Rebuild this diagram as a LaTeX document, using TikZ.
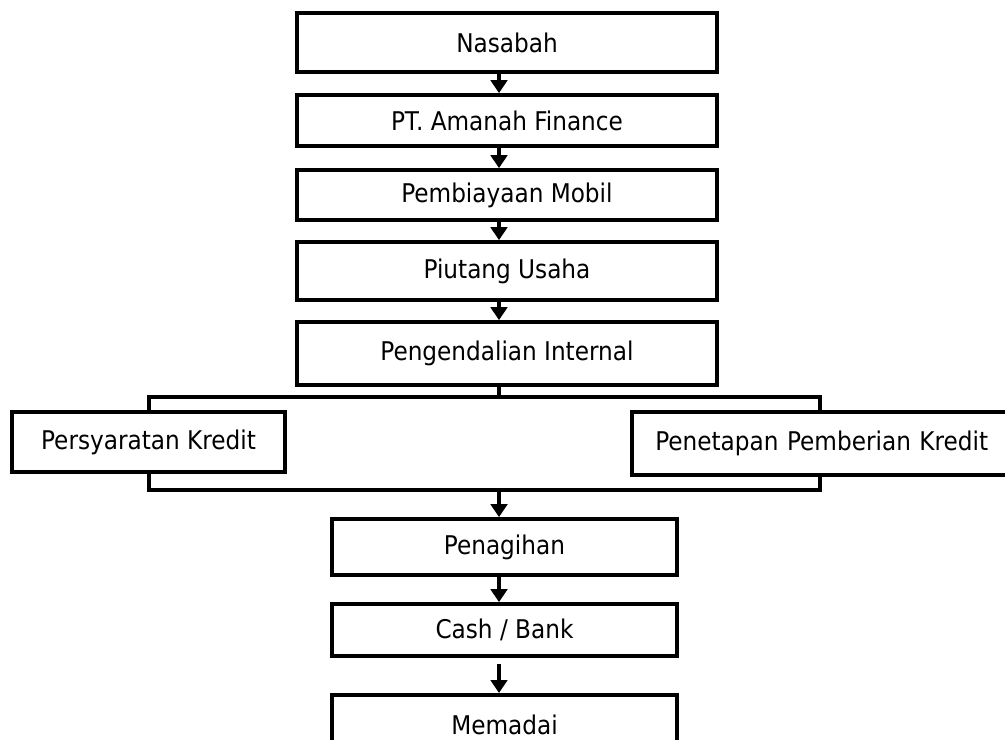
\documentclass[tikz,border=0pt]{standalone}
\usepackage{fontspec}
\setmainfont{DejaVu Sans Condensed}
\usetikzlibrary{arrows.meta}
\tikzset{
	kotak/.style={draw, fill=white, line width=3.2pt, inner sep=0pt, minimum width=12.6cm},
	panah/.style={line width=3.2pt, -{Triangle[width=14pt,length=11pt]}}
}
\begin{document}
\begin{tikzpicture}[x=.03cm, y=-.03cm, font=\fontsize{22}{26}\selectfont, line join=miter]
		\useasboundingbox (0,0) rectangle (1005,740);
		\coordinate (ax) at (499,0);
		\coordinate (kiri) at (149,397);
		\coordinate (kanan) at (820,490);
		\draw[line width=3.2pt] (kiri) rectangle (kanan);
		\node[kotak, minimum height=1.77cm] (nasabah) at (507,42.5) {Nasabah};
		\node[kotak, minimum height=1.53cm] (pt) at (507,120.5) {PT. Amanah Finance};
		\node[kotak, minimum height=1.5cm] (mobil) at (507,195) {\raisebox{-3pt}{Pembiayaan Mobil}};
		\node[kotak, minimum height=1.74cm] (piutang) at (507,271) {Piutang Usaha};
		\node[kotak, minimum height=1.89cm] (internal) at (507,353.5) {Pengendalian Internal};
		\node[kotak, minimum width=8.19cm, minimum height=1.8cm] (syarat) at (148.5,442) {Persyaratan Kredit};
		\node[kotak, minimum width=11.34cm, minimum height=1.89cm, text width=11.34cm, align=left] (tetap) at (821,443.5) {\hspace{.7cm}Penetapan Pemberian Kredit};
		\node[kotak, minimum width=10.35cm, minimum height=1.68cm] (tagih) at (504.5,547) {Penagihan};
		\node[kotak, minimum width=10.35cm, minimum height=1.56cm] (cash) at (504.5,630) {Cash / Bank};
		\node[kotak, minimum width=10.35cm, minimum height=1.8cm, anchor=north] (memadai) at (504.5,693) {\raisebox{-.2cm}{Memadai}};
		\draw[panah] (nasabah.south -| ax)--(pt.north -| ax);
		\draw[panah] (pt.south -| ax)--(mobil.north -| ax);
		\draw[panah] ([yshift=.1cm]mobil.south -| ax)--(piutang.north -| ax);
		\draw[panah] (piutang.south -| ax)--(internal.north -| ax);
		\draw[line width=3.2pt] (internal.south -| ax)--(kiri -| ax);
		\draw[panah] (kanan -| ax)--(tagih.north -| ax);
		\draw[panah] (tagih.south -| ax)--(cash.north -| ax);
		\draw[panah, shorten <=.18cm] (cash.south -| ax)--(memadai.north -| ax);
		
	\end{tikzpicture}
\end{document}
